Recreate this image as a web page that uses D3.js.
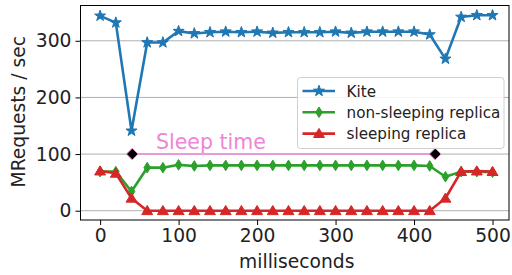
<!DOCTYPE html>
<html>
<head>
<meta charset="utf-8">
<script src="https://cdn.jsdelivr.net/npm/d3@7"></script>
<style>
  body { margin: 0; background: #fff; }
  svg { display: block; font-family: "DejaVu Sans", sans-serif; }
</style>
</head>
<body>
<script>
// Data
var ms = [0, 20, 40, 60, 80, 100, 120, 140, 160, 180, 200, 220, 240, 260, 280, 300,
          320, 340, 360, 380, 400, 420, 440, 460, 480, 500];
var kite = [344, 332, 141, 297, 297, 317, 313, 315, 316, 315, 316, 314, 315, 315, 315, 316,
            314, 316, 316, 316, 316, 311, 268, 342, 345, 345];
var nonSleeping = [69, 69, 34, 76, 76, 81, 79, 80, 80, 80, 80, 80, 80, 80, 80, 80,
                   80, 80, 80, 80, 80, 79, 60, 69, 69, 68];
var sleeping = [70, 66, 22, 0, 0, 0, 0, 0, 0, 0, 0, 0, 0, 0, 0, 0,
                0, 0, 0, 0, 0, 0, 22, 69, 70, 69];
var seriesNames = ["Kite", "non-sleeping replica", "sleeping replica"];
var sleepStart = 41, sleepEnd = 427, sleepLevel = 100;
var xTicks = [0, 100, 200, 300, 400, 500];
var yTicks = [0, 100, 200, 300];

function drawChart() {
    var W = 512, H = 275;
    // plot box edges (note: "top" is reserved on window, so use a margin object)
    var box = { left: 80.5, right: 509, top: 5.5, bottom: 220 };

    var svg = d3.select("body").append("svg").attr("width", W).attr("height", H);

    var x = d3.scaleLinear().domain([-25, 521]).range([box.left, box.right]);
    var y = d3.scaleLinear().domain([-16.4, 362.3]).range([box.bottom, box.top]);

    // grid
    svg.append("g").selectAll("line").data(yTicks).enter().append("line")
        .attr("x1", box.left).attr("x2", box.right)
        .attr("y1", function (d) { return y(d); }).attr("y2", function (d) { return y(d); })
        .attr("stroke", "#b0b0b0").attr("stroke-width", 1);

    // axes
    var xAxis = d3.axisBottom(x).tickValues(xTicks).tickSize(5).tickPadding(4);
    var yAxis = d3.axisLeft(y).tickValues(yTicks).tickSize(5).tickPadding(4);
    var gx = svg.append("g").attr("transform", "translate(0," + box.bottom + ")").call(xAxis);
    var gy = svg.append("g").attr("transform", "translate(" + box.left + ",0)").call(yAxis);
    [gx, gy].forEach(function (g) {
        g.select(".domain").remove();
        g.selectAll("line").attr("stroke", "#000");
        g.selectAll("text").attr("fill", "#222").style("font-size", "18.7px")
            .style("font-family", "DejaVu Sans, sans-serif");
    });

    // axis labels
    svg.append("text").attr("x", (box.left + box.right) / 2 + 2).attr("y", 268)
        .attr("text-anchor", "middle").style("font-size", "18.7px").attr("fill", "#222")
        .text("milliseconds");
    svg.append("text")
        .attr("transform", "translate(25," + ((box.top + box.bottom) / 2 - 1) + ") rotate(-90)")
        .attr("text-anchor", "middle").style("font-size", "18.7px").attr("fill", "#222")
        .text("MRequests / sec");

    // marker shapes
    function starPath(R) {
        var r = R * 0.4, p = [];
        for (var i = 0; i < 10; i++) {
            var a = -Math.PI / 2 + i * Math.PI / 5, rr = i % 2 ? r : R;
            p.push([rr * Math.cos(a), rr * Math.sin(a)]);
        }
        return "M" + p.join("L") + "Z";
    }
    function diamondPath(h, w) {
        return "M0," + (-h) + "L" + w + ",0L0," + h + "L" + (-w) + ",0Z";
    }
    function trianglePath(s) {
        return "M0," + (-s) + "L" + (s * 1.05) + "," + (s * 0.75) + "L" + (-s * 1.05) + "," + (s * 0.75) + "Z";
    }

    var pink = "#ee85d6";

    // sleep time annotation
    svg.append("line")
        .attr("x1", x(sleepStart)).attr("x2", x(sleepEnd))
        .attr("y1", y(sleepLevel)).attr("y2", y(sleepLevel))
        .attr("stroke", pink).attr("stroke-width", 1.5);
    svg.selectAll(".sleepmark").data([sleepStart, sleepEnd]).enter().append("path")
        .attr("class", "sleepmark")
        .attr("transform", function (d) { return "translate(" + x(d) + "," + y(sleepLevel) + ")"; })
        .attr("d", diamondPath(5.8, 5.8))
        .attr("fill", "#000").attr("stroke", pink).attr("stroke-width", 1);
    svg.append("text").attr("x", 156).attr("y", 148.5)
        .style("font-size", "20.5px").attr("fill", pink).text("Sleep time");

    var series = [
        { name: seriesNames[0], values: kite, color: "#1f77b4", marker: starPath(5.8) },
        { name: seriesNames[1], values: nonSleeping, color: "#2ca02c", marker: diamondPath(5.3, 3.3) },
        { name: seriesNames[2], values: sleeping, color: "#d62728", marker: trianglePath(5.2) }
    ];

    var line = d3.line()
        .x(function (d, i) { return x(ms[i]); })
        .y(function (d) { return y(d); });

    series.forEach(function (s) {
        var g = svg.append("g");
        g.append("path").datum(s.values).attr("d", line)
            .attr("fill", "none").attr("stroke", s.color).attr("stroke-width", 2.6)
            .attr("stroke-linejoin", "round");
        g.selectAll("path.mk").data(s.values).enter().append("path").attr("class", "mk")
            .attr("transform", function (d, i) { return "translate(" + x(ms[i]) + "," + y(d) + ")"; })
            .attr("d", s.marker).attr("fill", s.color).attr("stroke", s.color).attr("stroke-width", 1);
    });

    // frame
    svg.append("rect").attr("x", box.left).attr("y", box.top)
        .attr("width", box.right - box.left).attr("height", box.bottom - box.top)
        .attr("fill", "none").attr("stroke", "#000").attr("stroke-width", 1);

    // legend
    var lg = svg.append("g").attr("transform", "translate(297.5,77.5)");
    lg.append("rect").attr("width", 206.5).attr("height", 71).attr("rx", 3)
        .attr("fill", "#fff").attr("fill-opacity", 0.85).attr("stroke", "#d0d0d0");
    series.forEach(function (s, i) {
        var cy = 13.5 + i * 21.3;
        lg.append("line").attr("x1", 5).attr("x2", 37.5).attr("y1", cy).attr("y2", cy)
            .attr("stroke", s.color).attr("stroke-width", 2.6);
        lg.append("path").attr("transform", "translate(21.5," + cy + ")")
            .attr("d", s.marker).attr("fill", s.color).attr("stroke", s.color);
        lg.append("text").attr("x", 49).attr("y", cy + 5.5)
            .style("font-size", "15.2px").attr("fill", "#222").text(s.name);
    });
}

drawChart();
</script>
</body>
</html>
